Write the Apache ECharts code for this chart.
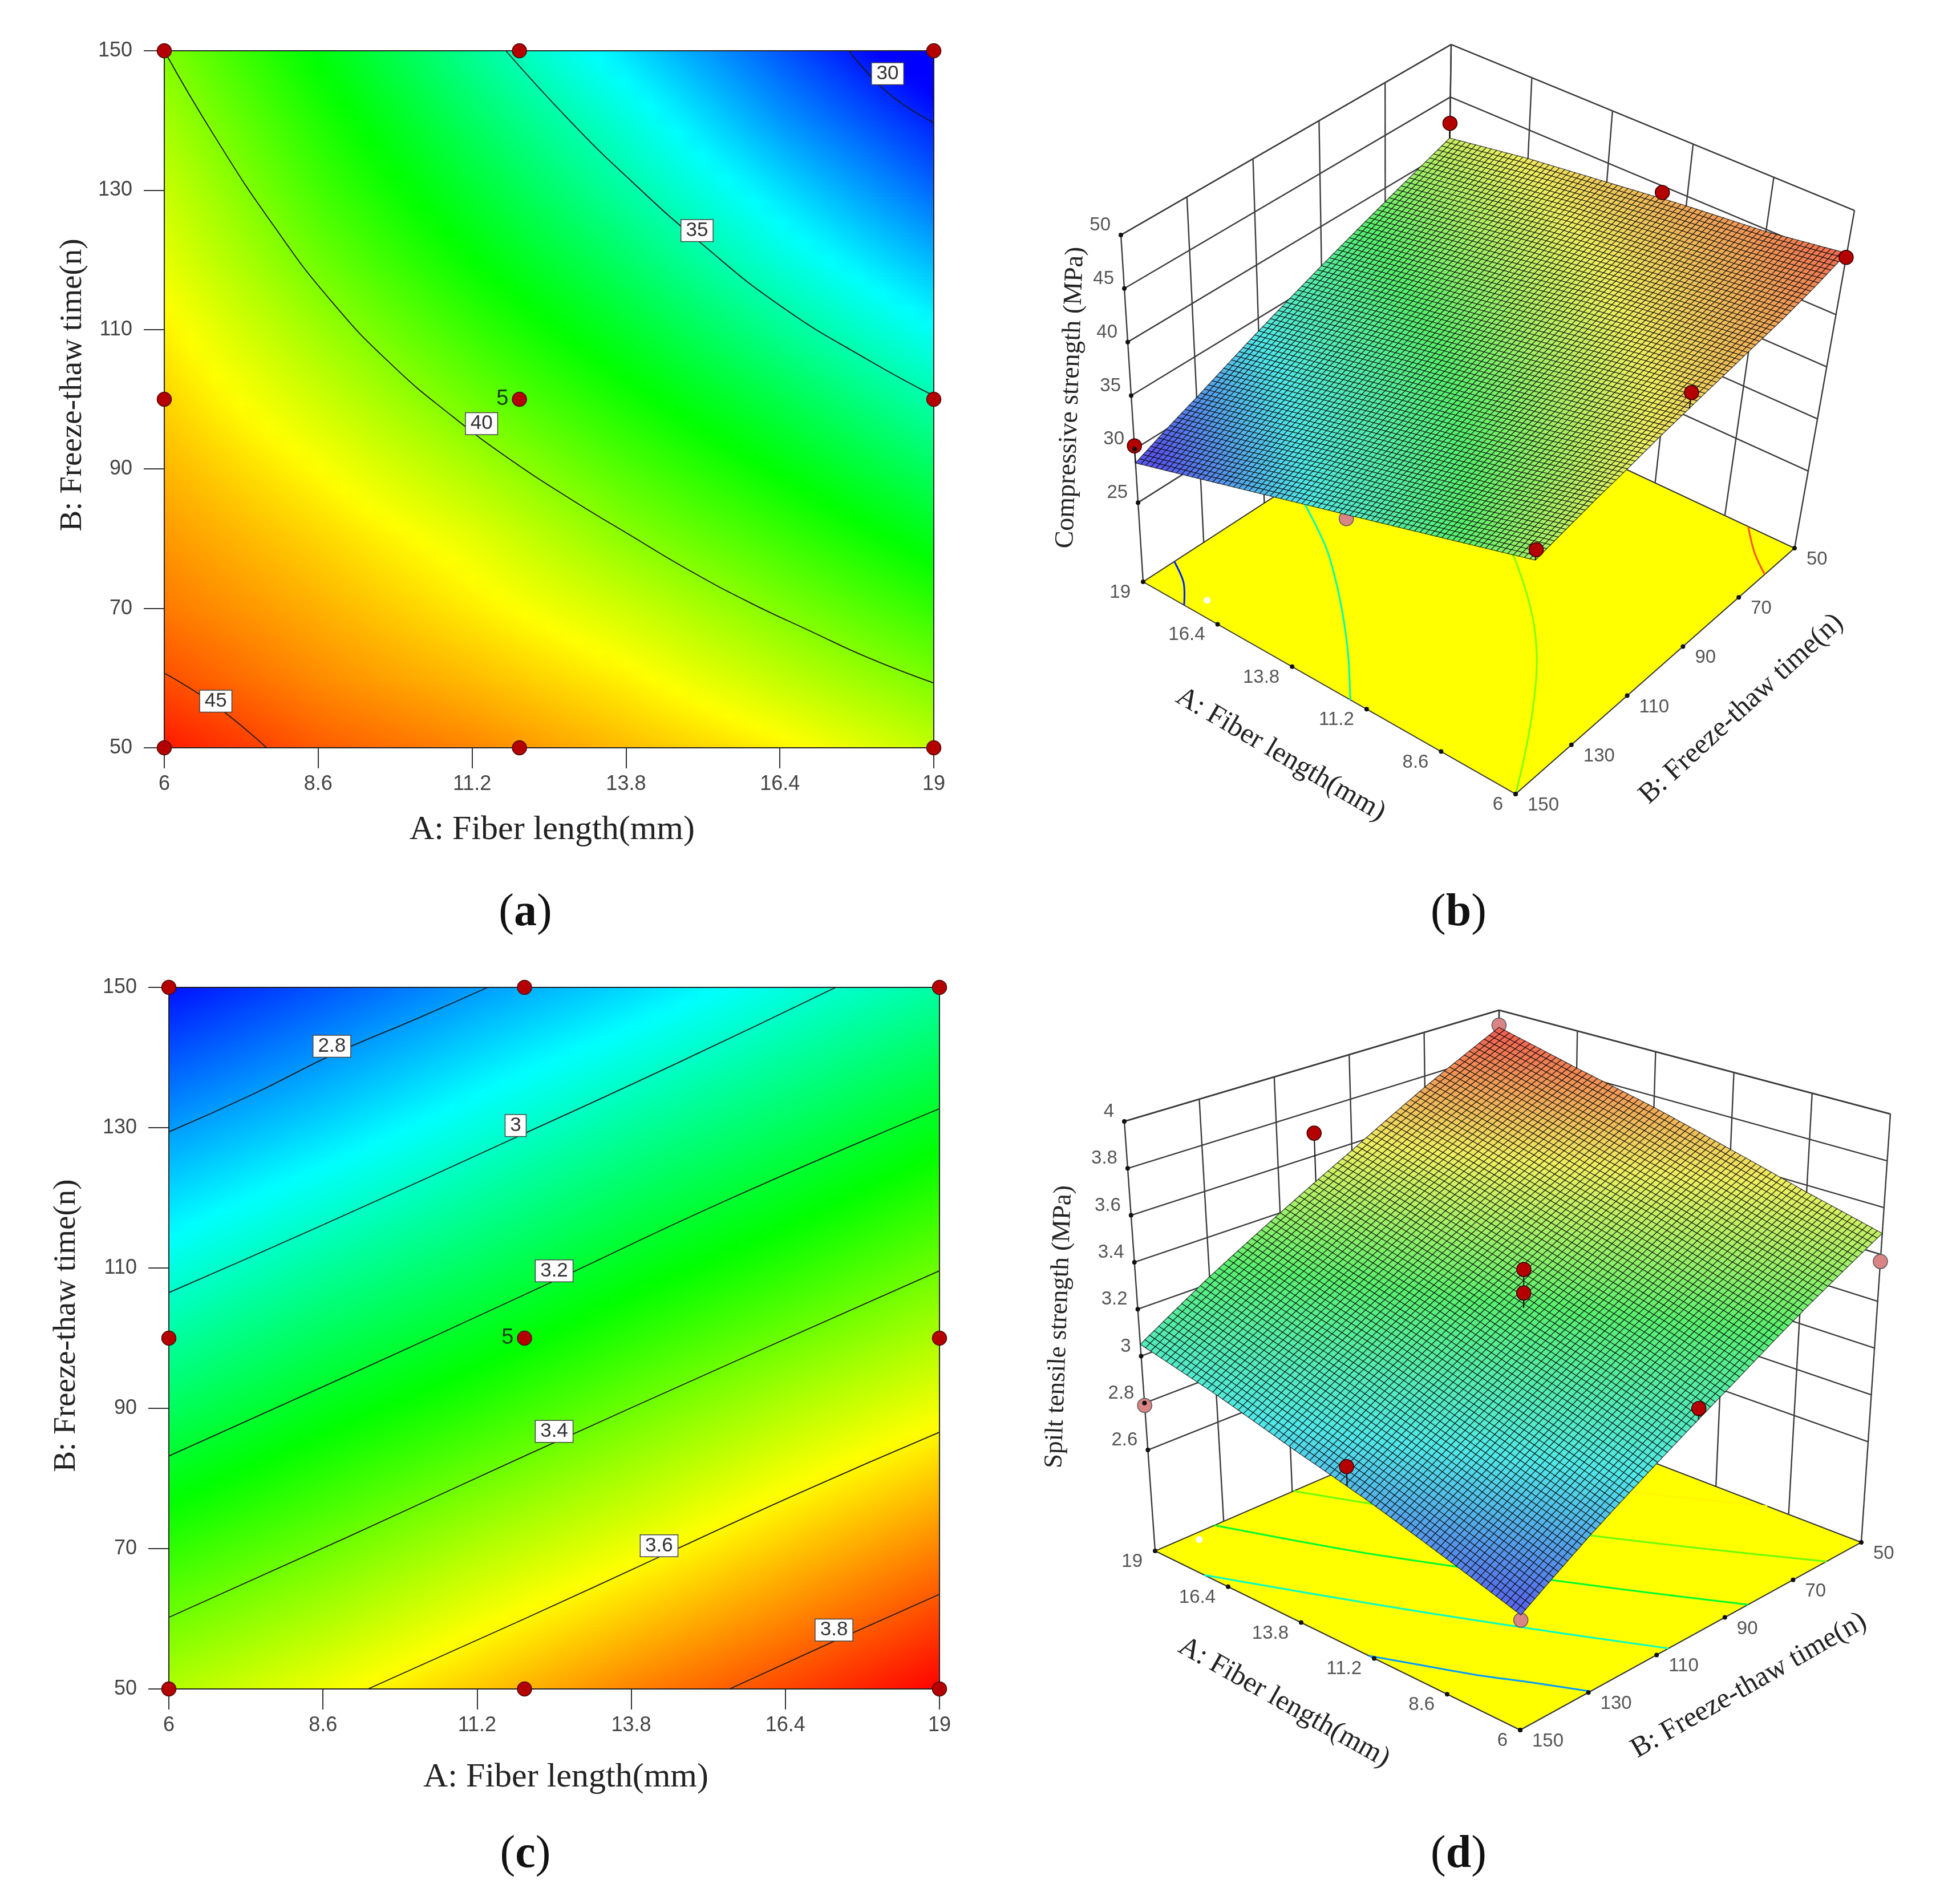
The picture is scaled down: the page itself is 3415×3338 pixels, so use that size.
<!DOCTYPE html>
<html>
<head>
<meta charset="utf-8">
<style>html,body{margin:0;background:#fff}#main{width:3415px;height:3338px}</style>
<script src="https://cdn.jsdelivr.net/npm/echarts@6/dist/echarts.min.js"></script>
</head>
<body>
<div id="main"></div>
<script>
// axis ticks, shared by all four panels
const fiberTicks = [6, 8.6, 11.2, 13.8, 16.4, 19];
const freezeTicks = [50, 70, 90, 110, 130, 150];
const compTicks = [25, 30, 35, 40, 45, 50];
const tensileTicks = [2.6, 2.8, 3, 3.2, 3.4, 3.6, 3.8, 4];

// compressive strength read at each fiber tick, one list per fiber length (B = 50..150 step 10)
const compRows = [50, 60, 70, 80, 90, 100, 110, 120, 130, 140, 150];
const comp6 = [45.9, 45.0, 44.3, 43.8, 43.3, 42.8, 42.3, 41.7, 41.2, 40.6, 40.0];
const comp86 = [44.8, 44.0, 43.4, 42.8, 42.1, 41.3, 40.5, 39.7, 39.0, 38.4, 37.74];
const comp112 = [44.1, 43.2, 42.4, 41.7, 40.7, 39.7, 38.8, 37.9, 37.1, 36.3, 35.48];
const comp138 = [43.2, 42.3, 41.3, 40.2, 39.2, 38.2, 37.2, 36.2, 35.2, 34.3, 33.22];
const comp164 = [42.3, 41.1, 40.0, 38.9, 37.8, 36.7, 35.5, 34.3, 33.2, 32.0, 30.96];
const comp19 = [41.1, 39.9, 38.7, 37.5, 36.3, 35.05, 33.8, 32.5, 31.2, 30.0, 28.7];

// split tensile strength, same idea (B = 50..150 step 20)
const tens6 = [3.49, 3.32, 3.14, 2.97, 2.80, 2.62];
const tens86 = [3.57, 3.40, 3.23, 3.06, 2.88, 2.71];
const tens112 = [3.66, 3.49, 3.31, 3.14, 2.97, 2.80];
const tens138 = [3.75, 3.57, 3.40, 3.23, 3.06, 2.88];
const tens164 = [3.83, 3.66, 3.49, 3.31, 3.14, 2.97];
const tens19 = [3.92, 3.75, 3.57, 3.40, 3.23, 3.05];

// contour lines, [fiber, freeze]
const comp30 = [[17.57, 150], [18.22, 144], [19, 139.7]];
const comp35 = [[11.77, 150], [12.88, 139.7], [13.89, 131.3], [15.04, 122.6], [16.41, 113.4], [17.92, 105.5], [19, 100.5]];
const comp40 = [[6, 150], [6.83, 138], [7.84, 125], [8.84, 113.9], [9.85, 104.9], [10.86, 97.6], [11.87, 91.2], [12.88, 85.6], [13.89, 80.4], [14.9, 75.3], [15.9, 70.8], [16.9, 66.8], [17.9, 62.9], [19, 59.3]];
const comp45 = [[6, 60.7], [6.83, 56.3], [7.73, 50]];
const tens28 = [[6, 129.4], [7.45, 134.9], [8.76, 140.4], [10.2, 145.6], [11.38, 150]];
const tens30 = [[6, 106.5], [8.56, 116], [11.85, 128.6], [14.6, 139.3], [17.25, 150]];
const tens32 = [[6, 83.2], [9, 94.6], [12, 106.2], [15.5, 120], [19, 132.7]];
const tens34 = [[6, 60.2], [9, 71.6], [12, 83.2], [15.5, 96.5], [19, 109.6]];
const tens36 = [[9.36, 50], [12, 60], [14.27, 68.8], [16.6, 77.8], [19, 86.6]];
const tens38 = [[15.46, 50], [17.22, 56.8], [19, 63.5]];

// contour label positions, [fiber, freeze, text]
const compLabels = [[18.22, 146.7, '30'], [15.0, 124.2, '35'], [11.36, 96.5, '40'], [6.87, 56.7, '45']];
const tensLabels = [[8.75, 141.6, '2.8'], [11.85, 130.3, '3'], [12.5, 109.6, '3.2'], [12.5, 86.7, '3.4'], [14.27, 70.4, '3.6'], [17.22, 58.4, '3.8']];

// design points
const designFiber = [6, 12, 19];
const designFreeze = [50, 100, 150];

// measured points in the 3D panels, [fiber, freeze, strength]
const compAbove = [[19, 50, 42.5], [12, 50, 44.4], [6, 50, 45.5], [19, 150, 30.3], [6, 100, 44.3], [6, 150, 41]];
const compBelow = [[12, 150, 34.4]];
const tensAbove = [[19, 100, 3.7], [12, 100, 3.415], [12, 100, 3.315], [6, 100, 3.1], [12, 150, 2.905]];
const tensBelow = [[6, 50, 3.37], [19, 150, 2.79], [19, 50, 3.93], [6, 150, 2.6]];

const compCols = [comp6, comp86, comp112, comp138, comp164, comp19];
const tensCols = [tens6, tens86, tens112, tens138, tens164, tens19];
const compLines = [[30, comp30], [35, comp35], [40, comp40], [45, comp45]];
const tensLines = [[2.8, tens28], [3, tens30], [3.2, tens32], [3.4, tens34], [3.6, tens36], [3.8, tens38]];

// camera of the 3D boxes: where each corner of the box lands on the page
const viewB = {
    left: [[2004, 1020], [1965, 412]], front: [[2657, 1392], [2707, 799]],
    back: [[2535, 675], [2544, 78]], right: [[3146, 961], [3251, 369]], zLo: 17.6, zHi: 50
};
const viewD = {
    left: [[2025, 2719], [1971, 1966]], front: [[2665, 3033], [2670, 2213]],
    back: [[2626, 2459], [2628, 1771]], right: [[3263, 2704], [3314, 1953]], zLo: 2.17, zHi: 4
};

const jetStops = [[0, 0, 255], [0, 255, 255], [0, 255, 0], [255, 255, 0], [255, 0, 0]];
const meshStops = [[88, 88, 235], [80, 232, 232], [88, 240, 110], [240, 240, 96], [240, 90, 80]];

function ramp(stops, t) {
    t = Math.max(0, Math.min(1, t)) * (stops.length - 1);
    var i = Math.min(Math.floor(t), stops.length - 2), f = t - i;
    var c = [0, 1, 2].map(function (k) { return Math.round(stops[i][k] + (stops[i + 1][k] - stops[i][k]) * f); });
    return 'rgb(' + c.join(',') + ')';
}

function lookup(cols, rows, a, b) {
    var i = 0, j = 0;
    while (i < fiberTicks.length - 2 && a > fiberTicks[i + 1]) i++;
    while (j < rows.length - 2 && b > rows[j + 1]) j++;
    var s = (a - fiberTicks[i]) / (fiberTicks[i + 1] - fiberTicks[i]);
    var t = (b - rows[j]) / (rows[j + 1] - rows[j]);
    return (cols[i][j] * (1 - s) + cols[i + 1][j] * s) * (1 - t) + (cols[i][j + 1] * (1 - s) + cols[i + 1][j + 1] * s) * t;
}

function project(v, a, b, z) {
    var s = (19 - a) / 13, t = (150 - b) / 100, w = (z - v.zLo) / (v.zHi - v.zLo);
    var out = [0, 1].map(function (k) {
        var bot = (v.left[0][k] * (1 - s) + v.front[0][k] * s) * (1 - t) + (v.back[0][k] * (1 - s) + v.right[0][k] * s) * t;
        var top = (v.left[1][k] * (1 - s) + v.front[1][k] * s) * (1 - t) + (v.back[1][k] * (1 - s) + v.right[1][k] * s) * t;
        return bot + (top - bot) * w;
    });
    return out;
}

var sans = 'Liberation Sans', serif = 'Liberation Serif';

function cellIndex(rows) {
    var cells = [];
    for (var i = 0; i < fiberTicks.length - 1; i++) {
        for (var j = 0; j < rows.length - 1; j++) cells.push([i, j]);
    }
    return cells;
}

// ---- flat contour panel
function contourSeries(idx, cols, rows, lo, hi, lines, labels) {
    var series = [];
    series.push({
        type: 'custom', xAxisIndex: idx, yAxisIndex: idx, z: 1, clip: false, silent: true,
        data: cellIndex(rows),
        renderItem: function (params, api) {
            var i = api.value(0), j = api.value(1);
            var p0 = api.coord([fiberTicks[i], rows[j]]), p1 = api.coord([fiberTicks[i + 1], rows[j + 1]]);
            var x0 = Math.round(p0[0]), x1 = Math.round(p1[0]), yb = Math.round(p0[1]), yt = Math.round(p1[1]);
            var n = Math.ceil((yb - yt) / 6), kids = [];
            for (var k = 0; k < n; k++) {
                var y0 = yt + Math.round((yb - yt) * k / n), y1 = yt + Math.round((yb - yt) * (k + 1) / n);
                var f = 1 - (k + 0.5) / n;
                var vL = cols[i][j] * (1 - f) + cols[i][j + 1] * f, vR = cols[i + 1][j] * (1 - f) + cols[i + 1][j + 1] * f;
                var stops = [];
                for (var q = 0; q <= 6; q++) {
                    stops.push({ offset: q / 6, color: ramp(jetStops, (vL + (vR - vL) * q / 6 - lo) / (hi - lo)) });
                }
                kids.push({
                    type: 'rect', shape: { x: x0, y: y0, width: x1 - x0 + 1, height: y1 - y0 + 1 },
                    style: { fill: new echarts.graphic.LinearGradient(0, 0, 1, 0, stops) }
                });
            }
            return { type: 'group', children: kids };
        }
    });
    lines.forEach(function (l) {
        series.push({
            type: 'line', xAxisIndex: idx, yAxisIndex: idx, z: 2, data: l[1], smooth: 0.5, showSymbol: false,
            symbol: 'none', silent: true, lineStyle: { color: '#1a1a1a', width: 1.8 }
        });
    });
    series.push({
        type: 'line', xAxisIndex: idx, yAxisIndex: idx, z: 3, symbol: 'none', silent: true, clip: false,
        data: [[6, 50], [19, 50], [19, 150], [6, 150], [6, 50]], lineStyle: { color: '#222', width: 2 }
    });
    series.push({
        type: 'scatter', xAxisIndex: idx, yAxisIndex: idx, z: 4, symbolSize: 1, silent: true,
        itemStyle: { color: '#fff', opacity: 1 },
        data: labels.map(function (l) { return { name: l[2], value: [l[0], l[1]] }; }),
        label: {
            show: true, formatter: '{b}', position: 'inside', color: '#333', fontFamily: sans, fontSize: 35, opacity: 1,
            backgroundColor: '#fff', borderColor: '#444', borderWidth: 1.5, padding: [2, 8, 0, 8], lineHeight: 35
        }
    });
    var pts = [];
    designFiber.forEach(function (a) { designFreeze.forEach(function (b) { pts.push({ value: [a, b], name: (a === 12 && b === 100) ? '5' : '' }); }); });
    series.push({
        type: 'scatter', xAxisIndex: idx, yAxisIndex: idx, z: 5, symbolSize: 25, clip: false, silent: true,
        itemStyle: { color: '#b40000', borderColor: '#4a0a0a', borderWidth: 1.5, opacity: 1 }, data: pts,
        label: { show: true, formatter: '{b}', position: 'left', distance: 6, color: '#143c14', fontFamily: sans, fontSize: 38 }
    });
    return series;
}

// ---- 3D response surface panel, drawn on the page-sized hidden grid
function surfaceSeries(v, cols, rows, lo, hi, lines, zTicks, above, below, whiteDot) {
    var series = [], G = 2, nx = 15, ny = Math.round(75 / (rows.length - 1));
    var P = function (a, b, z) { return project(v, a, b, z); };

    // walls
    var segs = [];
    zTicks.concat([v.zHi]).forEach(function (z) {
        segs.push([19, 150, z, 19, 50, z]);
        segs.push([19, 50, z, 6, 50, z]);
    });
    freezeTicks.forEach(function (b) { segs.push([19, b, v.zLo, 19, b, v.zHi]); });
    fiberTicks.forEach(function (a) { segs.push([a, 50, v.zLo, a, 50, v.zHi]); });
    series.push({
        type: 'custom', xAxisIndex: G, yAxisIndex: G, z: 1, silent: true, clip: false, data: segs.map(function (s, i) { return [i, 0]; }),
        renderItem: function (params, api) {
            var s = segs[api.value(0)];
            var a = api.coord(P(s[0], s[1], s[2])), b = api.coord(P(s[3], s[4], s[5]));
            return { type: 'line', shape: { x1: a[0], y1: a[1], x2: b[0], y2: b[1] }, style: { stroke: '#3c3c3c', lineWidth: 2.4 } };
        }
    });

    // floor
    series.push({
        type: 'custom', xAxisIndex: G, yAxisIndex: G, z: 2, silent: true, clip: false, data: [[0, 0]],
        renderItem: function (params, api) {
            var pts = [[19, 150], [6, 150], [6, 50], [19, 50]].map(function (c) { return api.coord(P(c[0], c[1], v.zLo)); });
            return { type: 'polygon', shape: { points: pts }, style: { fill: '#ffff00', stroke: '#333', lineWidth: 2 } };
        }
    });

    // contour lines on the floor
    series.push({
        type: 'custom', xAxisIndex: G, yAxisIndex: G, z: 3, silent: true, clip: false, data: lines.map(function (l, i) { return [i, 0]; }),
        renderItem: function (params, api) {
            var l = lines[api.value(0)];
            var pts = l[1].map(function (c) { return api.coord(P(c[0], c[1], v.zLo)); });
            return { type: 'polyline', shape: { points: pts, smooth: 0.3 }, style: { fill: null, stroke: ramp(jetStops, (l[0] - lo) / (hi - lo)), lineWidth: 3 } };
        }
    });
    series.push({
        type: 'scatter', xAxisIndex: G, yAxisIndex: G, z: 4, silent: true, symbolSize: 12, clip: false,
        itemStyle: { color: '#fff', opacity: 1 }, data: [P(whiteDot[0], whiteDot[1], v.zLo)]
    });
    series.push({
        type: 'scatter', xAxisIndex: G, yAxisIndex: G, z: 5, silent: true, symbolSize: 25, clip: false,
        itemStyle: { color: '#d98585', borderColor: '#555', borderWidth: 1.5, opacity: 1 },
        data: below.map(function (p) { return P(p[0], p[1], p[2]); })
    });

    // surface mesh
    series.push({
        type: 'custom', xAxisIndex: G, yAxisIndex: G, z: 6, silent: true, clip: false, data: cellIndex(rows),
        renderItem: function (params, api) {
            var i = api.value(0), j = api.value(1), kids = [];
            var da = (fiberTicks[i + 1] - fiberTicks[i]) / nx, db = (rows[j + 1] - rows[j]) / ny;
            for (var p = 0; p < nx; p++) {
                for (var q = 0; q < ny; q++) {
                    var a0 = fiberTicks[i] + p * da, b0 = rows[j] + q * db;
                    var corners = [[a0, b0], [a0 + da, b0], [a0 + da, b0 + db], [a0, b0 + db]].map(function (c) {
                        return api.coord(P(c[0], c[1], lookup(cols, rows, c[0], c[1])));
                    });
                    var mid = lookup(cols, rows, a0 + da / 2, b0 + db / 2);
                    kids.push({
                        type: 'polygon', shape: { points: corners },
                        style: { fill: ramp(meshStops, (mid - lo) / (hi - lo)), stroke: 'rgba(0,0,0,0.7)', lineWidth: 1.3 }
                    });
                }
            }
            return { type: 'group', children: kids };
        }
    });

    // stems + points sitting over the surface
    series.push({
        type: 'custom', xAxisIndex: G, yAxisIndex: G, z: 7, silent: true, clip: false, data: above.map(function (p, i) { return [i, 0]; }),
        renderItem: function (params, api) {
            var p = above[api.value(0)];
            var a = api.coord(P(p[0], p[1], p[2])), b = api.coord(P(p[0], p[1], lookup(cols, rows, p[0], p[1])));
            return { type: 'line', shape: { x1: a[0], y1: a[1], x2: b[0], y2: b[1] }, style: { stroke: '#111', lineWidth: 2 } };
        }
    });
    series.push({
        type: 'scatter', xAxisIndex: G, yAxisIndex: G, z: 8, silent: true, symbolSize: 25, clip: false,
        itemStyle: { color: '#b40000', borderColor: '#300', borderWidth: 1.5, opacity: 1 },
        data: above.map(function (p) { return P(p[0], p[1], p[2]); })
    });

    // tick dots with labels
    var tickLabel = function (align, ox, oy) {
        return { show: true, formatter: '{b}', position: 'inside', align: align, verticalAlign: 'middle', offset: [ox, oy], color: '#555', fontFamily: sans, fontSize: 33 };
    };
    var tickSeries = function (data, label) {
        series.push({
            type: 'scatter', xAxisIndex: G, yAxisIndex: G, z: 9, silent: true, symbolSize: 8, clip: false,
            itemStyle: { color: '#111', opacity: 1 }, data: data, label: label
        });
    };
    tickSeries(fiberTicks.map(function (a) { return { name: String(a), value: P(a, 150, v.zLo) }; }), tickLabel('right', -22, 19));
    tickSeries(freezeTicks.map(function (b) { return { name: String(b), value: P(6, b, v.zLo) }; }), tickLabel('left', 21, 20));
    tickSeries(zTicks.concat([v.zHi]).filter(function (z, i, arr) { return arr.indexOf(z) === i; }).map(function (z) { return { name: String(z), value: P(19, 150, z) }; }), tickLabel('right', -18, -17));
    return series;
}

function flatAxes(grid) {
    var base = {
        type: 'value', gridIndex: grid, splitLine: { show: false }, axisLine: { show: false },
        axisTick: { show: true, length: 36, lineStyle: { color: '#333', width: 2 } }
    };
    var text = { color: '#444', fontFamily: sans, fontSize: 36 };
    return {
        x: Object.assign({}, base, {
            min: 6, max: 19,
            axisTick: Object.assign({}, base.axisTick, { customValues: fiberTicks }),
            axisLabel: Object.assign({ margin: 46, customValues: fiberTicks }, text)
        }),
        y: Object.assign({}, base, {
            min: 50, max: 150,
            axisTick: Object.assign({}, base.axisTick, { customValues: freezeTicks }),
            axisLabel: Object.assign({ margin: 56, customValues: freezeTicks }, text)
        })
    };
}

function note(text, x, y, size, deg, weight) {
    return {
        type: 'text', x: x, y: y, rotation: deg * Math.PI / 180, silent: true,
        style: { text: text, font: (weight || 'normal') + ' ' + size + 'px "' + serif + '"', fill: '#222', align: 'center', verticalAlign: 'middle' }
    };
}
function panelTag(letter, x, y) {
    return {
        type: 'text', x: x, y: y, silent: true,
        style: {
            text: '({b|' + letter + '})', font: '80px "' + serif + '"', fill: '#111', align: 'center', verticalAlign: 'middle',
            rich: { b: { font: 'bold 80px "' + serif + '"', fill: '#111' } }
        }
    };
}

var axA = flatAxes(0), axC = flatAxes(1);
var hiddenX = { type: 'value', gridIndex: 2, min: 0, max: 3415, show: false };
var hiddenY = { type: 'value', gridIndex: 2, min: 0, max: 3338, inverse: true, show: false };

var option = {
    animation: false,
    backgroundColor: '#fff',
    grid: [
        { left: 288, top: 89, width: 1349, height: 1222 },
        { left: 296, top: 1731, width: 1351, height: 1230 },
        { left: 0, top: 0, width: 3415, height: 3338 }
    ],
    xAxis: [axA.x, axC.x, hiddenX],
    yAxis: [axA.y, axC.y, hiddenY],
    series: [].concat(
        contourSeries(0, compCols, compRows, 29.5, 46.3, compLines, compLabels),
        contourSeries(1, tensCols, freezeTicks, 2.6, 3.92, tensLines, tensLabels),
        surfaceSeries(viewB, compCols, compRows, 29.5, 46.3, compLines, compTicks, compAbove, compBelow, [17.27, 145.2]),
        surfaceSeries(viewD, tensCols, freezeTicks, 2.6, 3.92, tensLines, tensileTicks, tensAbove, tensBelow, [18.7, 139.6])
    ),
    graphic: [
        note('A: Fiber length(mm)', 968, 1455, 60, 0),
        note('B: Freeze-thaw time(n)', 128, 675, 55, 90),
        note('A: Fiber length(mm)', 992, 3116, 60, 0),
        note('B: Freeze-thaw time(n)', 117, 2324, 55, 90),
        note('A: Fiber length(mm)', 2245, 1323, 50, -30.4),
        note('B: Freeze-thaw time(n)', 3053, 1243, 50, 42.7),
        note('Compressive strength (MPa)', 1877, 697, 46, 88),
        note('A: Fiber length(mm)', 2251, 2985, 50, -29.3),
        note('B: Freeze-thaw time(n)', 3066, 2955, 50, 29.8),
        note('Spilt tensile strength (MPa)', 1857, 2326, 45, 88),
        panelTag('a', 921, 1601),
        panelTag('b', 2557, 1601),
        panelTag('c', 921, 3252),
        panelTag('d', 2557, 3252)
    ]
};

var myChart = echarts.init(document.getElementById('main'), null, { renderer: 'canvas' });
myChart.setOption(option);
</script>
</body>
</html>
